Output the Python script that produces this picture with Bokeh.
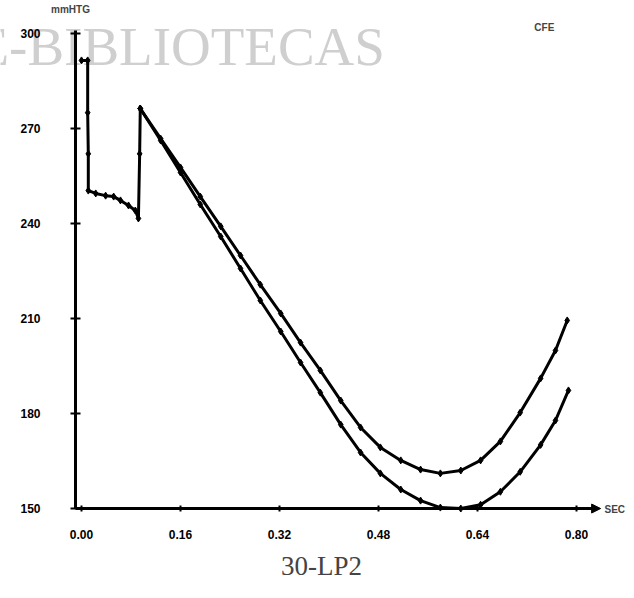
from bokeh.plotting import figure
from bokeh.models import Range1d, FixedTicker, Label, Arrow, NormalHead, ColumnDataSource
from bokeh.embed import file_html
from bokeh.resources import INLINE

# ---- data ----
# shared start (both curves coincide)
start_t = [0.000, 0.010, 0.010, 0.011, 0.011, 0.023, 0.039, 0.052, 0.063, 0.076, 0.087, 0.092, 0.094, 0.095]
start_v = [291.5, 291.5, 275.0, 262.0, 250.4, 249.5, 248.8, 248.5, 247.3, 245.7, 244.1, 241.6, 262.0, 276.3]

upper_t = [0.095, 0.128, 0.160, 0.192, 0.225, 0.257, 0.289, 0.322, 0.354, 0.386, 0.419, 0.451,
           0.483, 0.516, 0.548, 0.580, 0.613, 0.645, 0.677, 0.709, 0.742, 0.766, 0.785]
upper_v = [276.3, 266.8, 257.7, 248.5, 239.1, 229.9, 220.7, 211.6, 202.4, 193.6, 184.1, 175.6,
           169.3, 165.2, 162.3, 161.1, 162.0, 165.2, 171.2, 180.3, 191.1, 199.9, 209.4]

lower_t = [0.095, 0.128, 0.160, 0.192, 0.225, 0.257, 0.289, 0.322, 0.354, 0.386, 0.419, 0.451,
           0.483, 0.516, 0.548, 0.580, 0.613, 0.645, 0.677, 0.709, 0.742, 0.766, 0.787]
lower_v = [276.3, 266.2, 256.1, 246.0, 235.9, 225.8, 215.7, 205.9, 196.1, 186.6, 176.5, 167.7,
           161.1, 156.0, 152.5, 150.3, 150.0, 151.2, 155.3, 161.6, 170.1, 177.8, 187.3]

x_ticks = [0.0, 0.16, 0.32, 0.48, 0.64, 0.80]
x_tick_labels = ["0.00", "0.16", "0.32", "0.48", "0.64", "0.80"]
y_ticks = [150, 180, 210, 240, 270, 300]
y_tick_labels = ["150", "180", "210", "240", "270", "300"]

y_unit = "mmHTG"
x_unit = "SEC"
corner_tag = "CFE"
caption = "30-LP2"
watermark = "E-BIBLIOTECAS"

# ---- figure: the frame fills the whole canvas, axes sit at fixed data locations ----
p = figure(width=626, height=590, output_backend="svg", toolbar_location=None,
           x_range=Range1d(-0.1309, 0.8808), y_range=Range1d(124.12, 310.42),
           min_border=0)
p.xgrid.visible = False
p.ygrid.visible = False
p.outline_line_color = None
p.background_fill_color = "white"
p.border_fill_color = "white"

p.add_layout(Label(x=-0.1713, y=295.9, text=watermark, text_font="Liberation Serif",
                   text_font_size="55px", text_color="#cfcfcf",
                   text_baseline="alphabetic", level="underlay"))

for ax in (p.xaxis[0], p.yaxis[0]):
    ax.axis_line_width = 3
    ax.axis_line_color = "black"
    ax.major_tick_line_color = "black"
    ax.major_tick_line_width = 2
    ax.minor_tick_line_color = None
    ax.major_label_text_font = "Liberation Sans"
    ax.major_label_text_font_style = "bold"
    ax.major_label_text_font_size = "12px"
    ax.major_label_text_color = "black"

p.xaxis.fixed_location = 150
p.xaxis.bounds = (-0.0097, 0.83)
p.xaxis.ticker = FixedTicker(ticks=x_ticks)
p.xaxis.major_label_overrides = {t: l for t, l in zip(x_ticks, x_tick_labels)}
p.xaxis.major_tick_in = 3
p.xaxis.major_tick_out = 3
p.xaxis.major_label_standoff = 18

p.yaxis.fixed_location = -0.0097
p.yaxis.bounds = (150, 301)
p.yaxis.ticker = FixedTicker(ticks=y_ticks)
p.yaxis.major_label_overrides = {t: l for t, l in zip(y_ticks, y_tick_labels)}
p.yaxis.major_tick_in = 5
p.yaxis.major_tick_out = 5
p.yaxis.major_label_standoff = 30

for tt, vv in ((start_t, start_v), (upper_t, upper_v), (lower_t, lower_v)):
    src = ColumnDataSource(dict(t=tt, v=vv))
    p.line("t", "v", source=src, line_color="black", line_width=3)
    p.scatter("t", "v", source=src, marker="diamond", size=7, color="black")

p.add_layout(Arrow(end=NormalHead(size=9, fill_color="black", line_color="black"),
                   x_start=0.815, y_start=150, x_end=0.839, y_end=150,
                   line_color="black", line_width=3))

p.add_layout(Label(x=0.8453, y=149.6, text=x_unit, text_font="Liberation Sans",
                   text_font_style="bold", text_font_size="10px", text_baseline="middle"))
p.add_layout(Label(x=-0.0178, y=307.6, text=y_unit, text_font="Liberation Sans",
                   text_font_style="bold", text_font_size="10px", text_baseline="middle",
                   text_align="center"))
p.add_layout(Label(x=0.748, y=301.9, text=corner_tag, text_font="Liberation Sans",
                   text_font_style="bold", text_font_size="10px", text_baseline="middle",
                   text_align="center"))
p.add_layout(Label(x=0.3879, y=132.0, text=caption, text_font="Liberation Serif",
                   text_font_size="27px", text_align="center", text_baseline="middle"))

open("out.html", "w").write(file_html(p, INLINE))
